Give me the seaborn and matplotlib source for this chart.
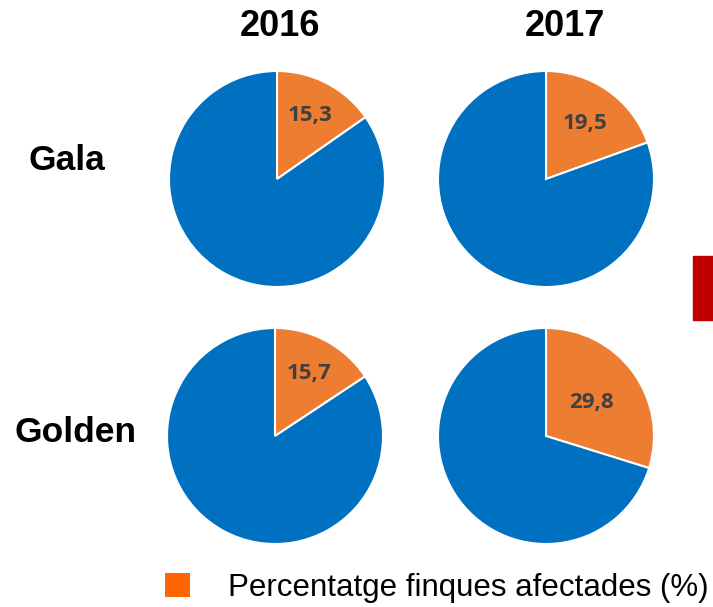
import matplotlib
matplotlib.use('Agg')
import matplotlib.pyplot as plt
import seaborn as sns
from matplotlib.patches import Rectangle, Patch

sns.set_theme(style='white')
plt.rcParams['font.family'] = ['Liberation Sans', 'DejaVu Sans']
plt.rcParams['text.color'] = 'black'

# data
years = ['2016', '2017']
varieties = ['Gala', 'Golden']
affected = [[15.3, 19.5], [15.7, 29.8]]
rest = [[84.7, 80.5], [84.3, 70.2]]

orange = '#ED7D31'
blue = '#0070C0'

W, H = 713, 607
fig = plt.figure(figsize=(W / 100, H / 100), dpi=100)

centers_x = [[277, 546], [275, 546]]
centers_y = [179, 436]
label_dist = [[0.66, 0.63], [0.66, 0.52]]
side = 270  # px for the pie axes (+-1.25 units)


def fmt(p):
    return f"{p:.1f}".replace('.', ',') if p < 50 else ''


for i, var in enumerate(varieties):
    for j, yr in enumerate(years):
        cx, cy = centers_x[i][j], centers_y[i]
        ax = fig.add_axes([(cx - side / 2) / W, (H - cy - side / 2) / H, side / W, side / H])
        wedges, texts, autotexts = ax.pie(
            [affected[i][j], rest[i][j]], colors=[orange, blue],
            startangle=90, counterclock=False, autopct=fmt,
            pctdistance=label_dist[i][j],
            wedgeprops=dict(edgecolor='white', linewidth=1.5))
        for t in autotexts:
            t.set_fontfamily('Open Sans')
            t.set_fontweight('bold')
            t.set_fontsize(16)
            t.set_color('#404040')
        ax.set_aspect('equal')

fig.text(280 / W, 1 - 26 / H, '2016', ha='center', va='center', fontsize=26, fontweight='bold')
fig.text(565 / W, 1 - 26 / H, '2017', ha='center', va='center', fontsize=26, fontweight='bold')
fig.text(28 / W, 1 - 161 / H, 'Gala', ha='left', va='center', fontsize=25.5, fontweight='bold')
fig.text(15 / W, 1 - 433 / H, 'Golden', ha='left', va='center', fontsize=25.5, fontweight='bold')

fig.add_artist(Rectangle((693 / W, (H - 320) / H), 20 / W, 64 / H,
                         color='#C00000', transform=fig.transFigure))

fig.legend(handles=[Patch(facecolor='#FF6600', edgecolor='none',
                          label='Percentatge finques afectades (%)')],
           loc='center left', bbox_to_anchor=(165 / W, 1 - 588 / H),
           frameon=False, fontsize=22.5, handlelength=0.8, handleheight=0.8,
           handletextpad=1.2, borderpad=0, borderaxespad=0)

fig.savefig('out.png', dpi=100)
